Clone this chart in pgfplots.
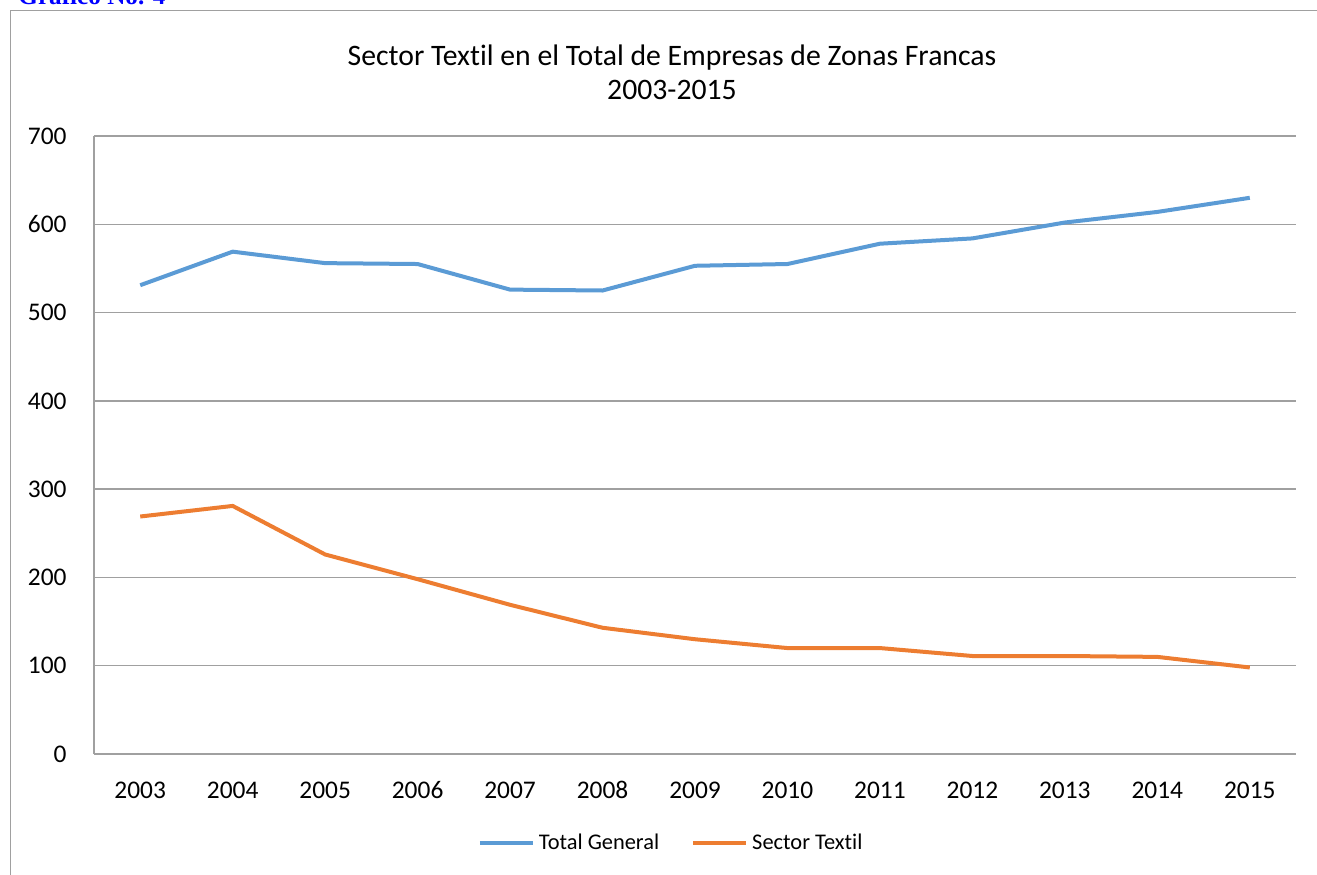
\documentclass[border=0pt]{standalone}
\usepackage{pgfplots}
\pgfplotsset{compat=1.18}
\usepackage{fontspec}
\setmainfont{Carlito}[Ligatures=NoCommon]
\newfontfamily\timesbf{Liberation Serif}
\definecolor{xlblue}{RGB}{91,155,213}
\definecolor{xlorange}{RGB}{237,125,49}
\definecolor{gridgray}{RGB}{160,160,160}
\begin{document}
\begin{tikzpicture}[x=0.5pt,y=0.5pt]
\useasboundingbox (0,0) rectangle (1317,874);
\clip (0,0) rectangle (1317,874);
\node[anchor=base west, inner sep=0pt, text=blue, font=\timesbf\bfseries\fontsize{12.6}{14}\selectfont] at (18,869) {Gráfico No. 4};
\draw[gridgray, line width=0.75pt] (10.5,-6) -- (10.5,863.5) -- (1330,863.5);
\node[font=\fontsize{14.85}{17}\selectfont, align=center] at (672,802) {Sector Textil en el Total de Empresas de Zonas Francas\\2003-2015};
\begin{axis}[
  at={(47pt,60pt)}, anchor=south west,
  scale only axis, width=601pt, height=309pt,
  xmin=-0.5, xmax=12.5, ymin=0, ymax=700,
  xtick={0,...,12},
  xticklabels={2003,2004,2005,2006,2007,2008,2009,2010,2011,2012,2013,2014,2015},
  ytick={0,100,...,700},
  axis x line*=bottom, axis y line*=left,
  axis line style={gridgray, line width=0.75pt},
  ymajorgrids, grid style={gridgray, line width=0.75pt},
  major tick length=0pt,
  /pgf/number format/assume math mode=true,
  ticklabel style={font=\fontsize{12.7}{14}\selectfont, inner sep=0pt},
  yticklabel style={anchor=east, xshift=-13.5pt},
  xticklabel style={anchor=base, yshift=-22pt},
  legend style={at={(0.481,-0.144)}, anchor=center, draw=none, fill=none,
    font=\fontsize{11.2}{13}\selectfont, legend columns=2,
    /tikz/every even column/.append style={column sep=14pt}},
  legend image code/.code={\draw[#1, line width=2pt] (0pt,0pt) -- (26.5pt,0pt);},
  clip=false,
]
\addplot[xlblue, line width=2pt, line join=round] coordinates {
(0,531) (1,569) (2,556) (3,555) (4,526) (5,525) (6,553) (7,555) (8,578) (9,584) (10,602) (11,614) (12,630)};
\addlegendentry{Total General}
\addplot[xlorange, line width=2pt, line join=round] coordinates {
(0,269) (1,281) (2,226) (3,198) (4,169) (5,143) (6,130) (7,120) (8,120) (9,111) (10,111) (11,110) (12,98)};
\addlegendentry{Sector Textil}
\end{axis}
\end{tikzpicture}
\end{document}
